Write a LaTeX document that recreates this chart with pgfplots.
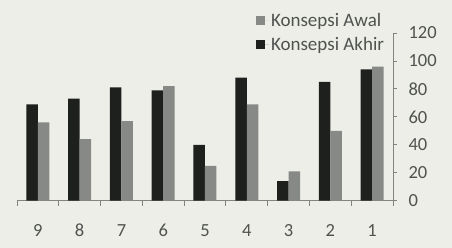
\documentclass[border=0pt]{standalone}
\usepackage{fontspec}
\setmainfont{Carlito}
\usepackage{pgfplots}
\pgfplotsset{compat=1.18}
\definecolor{bg}{RGB}{236,238,231}
\definecolor{dk}{RGB}{30,32,30}
\definecolor{gr}{RGB}{135,137,134}
\definecolor{txt}{RGB}{80,82,80}
\definecolor{ax}{RGB}{130,132,130}
\begin{document}
\begin{tikzpicture}
\path[use as bounding box, fill=bg] (-17pt,-47.3pt) rectangle (435pt,200.7pt);
\begin{axis}[at={(0,0)}, anchor=south west, scale only axis,
  width=376pt, height=167.7pt,
  xmin=0.5, xmax=9.5, ymin=0, ymax=120,
  ybar=0pt, bar width=11.5pt,
  axis x line*=bottom, axis y line*=right,
  axis line style={ax, line width=0.8pt},
  xtick={1,...,9}, xticklabels={9,8,7,6,5,4,3,2,1},
  minor xtick={0.5,1.5,...,9.5},
  every major x tick/.append style={draw=none},
  every minor x tick/.append style={ax, line width=0.8pt},
  minor tick length=5pt,
  ytick={0,20,...,120},
  tick align=outside, major tick length=4pt,
  every major y tick/.append style={ax, line width=0.8pt},
  tick label style={font=\fontsize{18.5}{22}\selectfont, text=txt},
  xticklabel style={yshift=-16pt},
  yticklabel style={xshift=8pt},
  /pgf/number format/assume math mode=true,
  legend style={draw=none, fill=none, at={(0.982,1.13)}, anchor=north east,
    font=\fontsize{19}{22}\selectfont, text=txt, row sep=5pt,
    legend cell align=left, inner sep=0pt},
  reverse legend,
  legend image code/.code={\fill[#1] (0pt,-4.5pt) rectangle (9pt,4.5pt); \path (9pt,0pt) -- (13pt,0pt);},
]
\addplot[fill=dk, draw=none] coordinates {(1,69) (2,73) (3,81) (4,79) (5,40) (6,88) (7,14) (8,85) (9,94)};
\addplot[fill=gr, draw=none] coordinates {(1,56) (2,44) (3,57) (4,82) (5,25) (6,69) (7,21) (8,50) (9,96)};
\legend{Konsepsi Akhir, Konsepsi Awal}
\end{axis}
\end{tikzpicture}
\end{document}
